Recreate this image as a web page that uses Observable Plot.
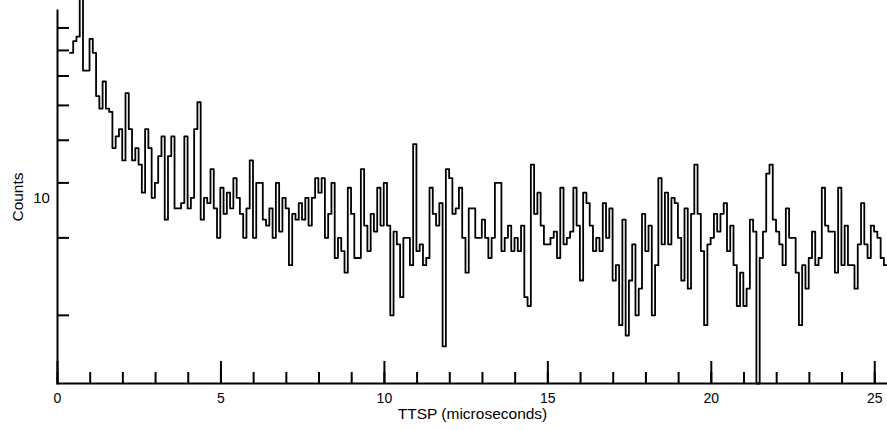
<!DOCTYPE html>
<html><head><meta charset="utf-8">
<script src="https://cdn.jsdelivr.net/npm/d3@7"></script>
<script src="https://cdn.jsdelivr.net/npm/@observablehq/plot@0.6"></script>
<style>body{margin:0;background:#fff} svg{display:block}</style>
</head><body><div id="chart"></div>
<script>
// Histogram counts per 0.1 µs bin
const counts = [
  79, 84, 86, 106, 72, 72, 85, 79, 63, 59,
  68, 59, 58, 48, 51, 53, 45, 64, 53, 45,
  48, 44, 38, 53, 48, 37, 40, 46, 51, 33,
  46, 51, 35, 35, 36, 51, 35, 37, 53, 61,
  33, 37, 36, 43, 35, 30, 39, 34, 38, 35,
  41, 37, 34, 30, 35, 45, 30, 40, 40, 33,
  32, 35, 30, 40, 31, 37, 35, 26, 34, 33,
  36, 33, 37, 32, 37, 41, 38, 41, 30, 34,
  40, 27, 30, 28, 25, 39, 34, 27, 27, 43,
  32, 28, 34, 31, 39, 32, 40, 32, 20, 31,
  29, 22, 30, 30, 26, 49, 28, 29, 26, 27,
  39, 34, 32, 36, 17, 43, 41, 34, 35, 39,
  30, 25, 35, 35, 30, 30, 33, 30, 27, 30,
  40, 40, 28, 30, 32, 28, 30, 28, 32, 22,
  21, 44, 34, 38, 32, 29, 29, 30, 31, 27,
  39, 29, 30, 31, 39, 32, 24, 38, 36, 32,
  28, 30, 28, 36, 30, 35, 24, 26, 19, 33,
  18, 24, 29, 20, 23, 34, 28, 32, 20, 26,
  41, 29, 38, 29, 37, 36, 30, 24, 35, 23,
  34, 44, 34, 28, 19, 29, 30, 34, 31, 34,
  36, 28, 32, 26, 21, 25, 21, 23, 33, 31,
  14, 27, 31, 42, 44, 33, 31, 29, 26, 35,
  30, 30, 25, 19, 26, 23, 27, 31, 26, 27,
  39, 32, 31, 31, 25, 39, 26, 32, 26, 26,
  23, 29, 36, 29, 27, 32, 31, 30, 27, 26
];
const binStart = 0.38;   // µs, left edge of the first bin
const binWidth = 0.1;    // µs
const xDomain = [0, 25.39];
const yDomain = [14, 98.6];
const yTicks = [20, 30, 40, 50, 60, 70, 80, 90];
const xMinorTicks = d3.range(0, 26, 1);
const xMajorTicks = [0, 5, 10, 15, 20, 25];
const xTitle = "TTSP (microseconds)";
const yTitle = "Counts";
const yExtra = "10";

const steps = counts.map((c, i) => ({t: binStart + i * binWidth, c}));
steps.push({t: binStart + counts.length * binWidth, c: counts[counts.length - 1]});

const font = "'Liberation Sans', Arial, Helvetica, sans-serif";
const chart = Plot.plot({
  width: 887, height: 430,
  marginLeft: 57, marginRight: 0, marginTop: 10, marginBottom: 47,
  style: {fontFamily: font, background: "white", color: "black", overflow: "hidden"},
  x: {domain: xDomain},
  y: {type: "log", domain: yDomain},
  marks: [
    Plot.axisY({ticks: yTicks, tickSize: -12, tickFormat: () => "", strokeWidth: 2, label: null}),
    Plot.axisX({ticks: xMinorTicks, tickSize: -11, tickFormat: () => "", strokeWidth: 2, label: null}),
    Plot.axisX({ticks: xMajorTicks, tickSize: -22, tickFormat: () => "", strokeWidth: 2, label: null}),
    Plot.text(xMajorTicks, {x: d => d, text: d => String(d), frameAnchor: "bottom",
      textAnchor: "middle", lineAnchor: "middle", dy: 15, fontSize: 14, fill: "black"}),
    Plot.frame({anchor: "left", strokeWidth: 2}),
    Plot.frame({anchor: "bottom", strokeWidth: 2}),
    Plot.line(steps, {x: "t", y: "c", curve: "step-after", stroke: "black", strokeWidth: 1.8}),
    Plot.text([yTitle], {frameAnchor: "left", rotate: -90, dx: -39, textAnchor: "middle",
      lineAnchor: "middle", fontSize: 15.5, fill: "black"}),
    Plot.text([yExtra], {frameAnchor: "left", dx: -16, dy: 1.5, textAnchor: "middle",
      lineAnchor: "middle", fontSize: 15, fill: "black"}),
    Plot.text([xTitle], {frameAnchor: "bottom", dy: 31, textAnchor: "middle",
      lineAnchor: "middle", fontSize: 15.5, fill: "black"})
  ]
});
document.getElementById("chart").appendChild(chart);
</script>
</body></html>
